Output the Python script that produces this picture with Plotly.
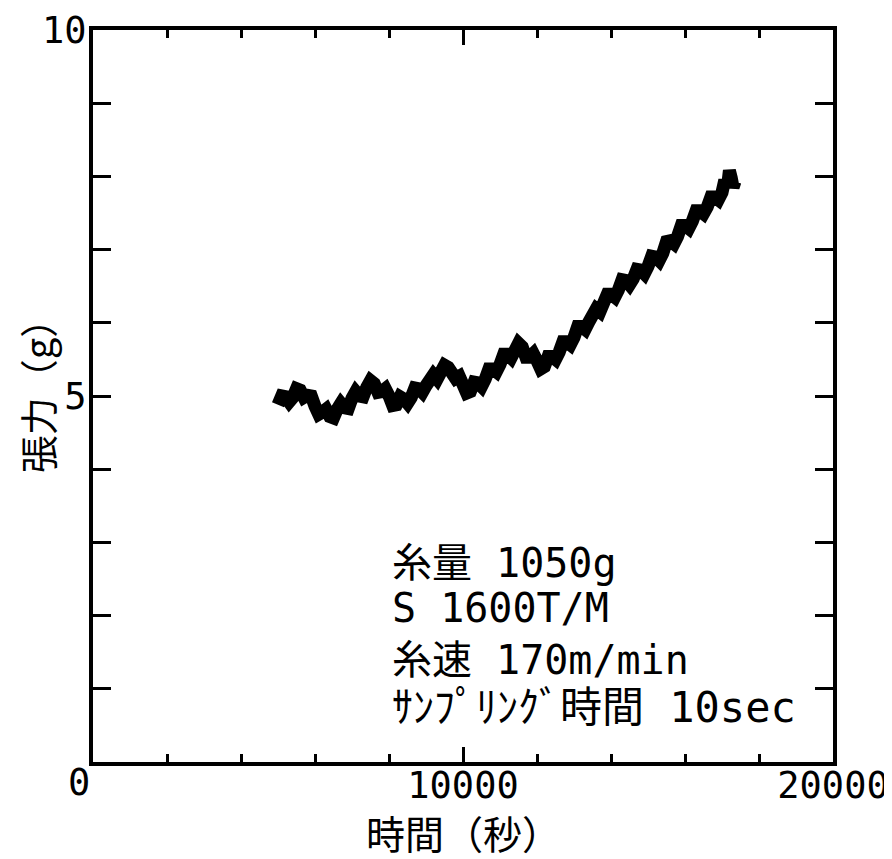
import plotly.graph_objects as go

# time (s) and tension (g) (10 s sampling, noisy band)
time_s = [5000, 5100, 5200, 5300, 5400, 5500, 5600, 5700, 5800, 5900,
          6000, 6100, 6200, 6300, 6400, 6500, 6600, 6700, 6800, 6900,
          7000, 7100, 7200, 7300, 7400, 7500, 7600, 7700, 7800, 7900,
          8000, 8100, 8200, 8300, 8400, 8500, 8600, 8700, 8800, 8900,
          9000, 9100, 9200, 9300, 9400, 9500, 9600, 9700, 9800, 9900,
          10000, 10100, 10200, 10300, 10400, 10500, 10600, 10700, 10800, 10900,
          11000, 11100, 11200, 11300, 11400, 11500, 11600, 11700, 11800, 11900,
          12000, 12100, 12200, 12300, 12400, 12500, 12600, 12700, 12800, 12900,
          13000, 13100, 13200, 13300, 13400, 13500, 13600, 13700, 13800, 13900,
          14000, 14100, 14200, 14300, 14400, 14500, 14600, 14700, 14800, 14900,
          15000, 15100, 15200, 15300, 15400, 15500, 15600, 15700, 15800, 15900,
          16000, 16100, 16200, 16300, 16400, 16500, 16600, 16700, 16800, 16900,
          17000, 17075, 17150, 17200, 17250, 17300, 17350]
tension_g = [4.88, 5.00, 4.99, 4.92, 4.98, 5.10, 5.08, 4.98, 5.01, 5.00,
             4.86, 4.75, 4.78, 4.82, 4.72, 4.70, 4.82, 4.90, 4.84, 4.83,
             4.97, 5.06, 5.00, 4.99, 5.12, 5.21, 5.17, 5.05, 5.06, 5.10,
             5.00, 4.87, 4.88, 4.99, 4.96, 4.90, 4.98, 5.11, 5.10, 5.05,
             5.14, 5.28, 5.29, 5.23, 5.31, 5.42, 5.39, 5.25, 5.24, 5.27,
             5.16, 5.04, 5.06, 5.19, 5.18, 5.13, 5.23, 5.37, 5.37, 5.33,
             5.43, 5.57, 5.57, 5.52, 5.62, 5.72, 5.67, 5.53, 5.53, 5.58,
             5.48, 5.37, 5.40, 5.54, 5.54, 5.50, 5.60, 5.74, 5.74, 5.70,
             5.80, 5.95, 5.95, 5.91, 6.01, 6.17, 6.19, 6.15, 6.25, 6.39,
             6.39, 6.35, 6.45, 6.59, 6.58, 6.52, 6.60, 6.73, 6.72, 6.67,
             6.77, 6.91, 6.90, 6.85, 6.95, 7.11, 7.12, 7.08, 7.18, 7.33,
             7.33, 7.29, 7.39, 7.53, 7.53, 7.49, 7.58, 7.72, 7.72, 7.68,
             7.78, 7.95, 7.86, 8.08, 7.98, 7.85, 7.93]

x_tickvals = [10000, 20000]
x_ticktext = ["10000", "20000"]
y_tickvals = [5, 10]
y_ticktext = ["5", "10"]

x_title = "時間（秒）"
y_title = "張力（g）"
notes = ["糸量 1050g", "S 1600T/M", "糸速 170m/min", "ｻﾝﾌﾟﾘﾝｸﾞ時間 10sec"]

fig = go.Figure()
fig.add_trace(go.Scatter(x=time_s, y=tension_g, mode="lines",
                         line=dict(color="black", width=13),
                         showlegend=False, hoverinfo="skip"))

tick_font = dict(family="DejaVu Sans Mono", size=37, color="black")
# the page body adds an 8px margin, so the figure is 8px smaller and margins shifted
fig.update_layout(
    width=884, height=851,
    margin=dict(l=85, r=59, t=22, b=97),
    paper_bgcolor="white", plot_bgcolor="white",
    xaxis=dict(range=[0, 20000], tickvals=x_tickvals, ticktext=x_ticktext,
               ticks="inside", ticklen=15, tickwidth=3, tickcolor="black",
               minor=dict(dtick=2000, ticks="inside", ticklen=8, tickwidth=3, tickcolor="black"),
               showline=True, linewidth=4, linecolor="black", mirror="ticks",
               showgrid=False, zeroline=False, tickfont=tick_font, automargin=False,
               ticklabelstandoff=-12),
    yaxis=dict(range=[0, 10], tickvals=y_tickvals, ticktext=y_ticktext,
               ticks="inside", ticklen=18, tickwidth=3, tickcolor="black",
               minor=dict(dtick=1, ticks="inside", ticklen=18, tickwidth=3, tickcolor="black"),
               showline=True, linewidth=4, linecolor="black", mirror="ticks",
               showgrid=False, zeroline=False, tickfont=tick_font, automargin=False,
               ticklabelstandoff=-5),
)

fig.add_annotation(text="0", xref="paper", yref="paper", x=0, y=0, xshift=-14, yshift=-20,
                   showarrow=False, font=tick_font, xanchor="center", yanchor="middle")
fig.add_annotation(text=x_title, xref="paper", yref="paper", x=0.5, y=0, yshift=-70,
                   showarrow=False, xanchor="center", yanchor="middle",
                   font=dict(family="Noto Sans CJK JP", size=39, color="black"))
fig.add_annotation(text=y_title, xref="paper", yref="paper", x=0, xshift=-57, y=0.512,
                   textangle=-90, showarrow=False, xanchor="center", yanchor="middle",
                   font=dict(family="Noto Sans CJK JP", size=38, color="black"))

note_y = [0.272, 0.210, 0.139, 0.074]
note_size = [40, 40, 40, 42]
for txt, yy, sz in zip(notes, note_y, note_size):
    fig.add_annotation(text=txt, xref="paper", yref="paper", x=0.401, y=yy,
                       xanchor="left", yanchor="middle", showarrow=False,
                       font=dict(family="DejaVu Sans Mono, Noto Sans CJK JP", size=sz, color="black"))

fig.write_html("out.html")
